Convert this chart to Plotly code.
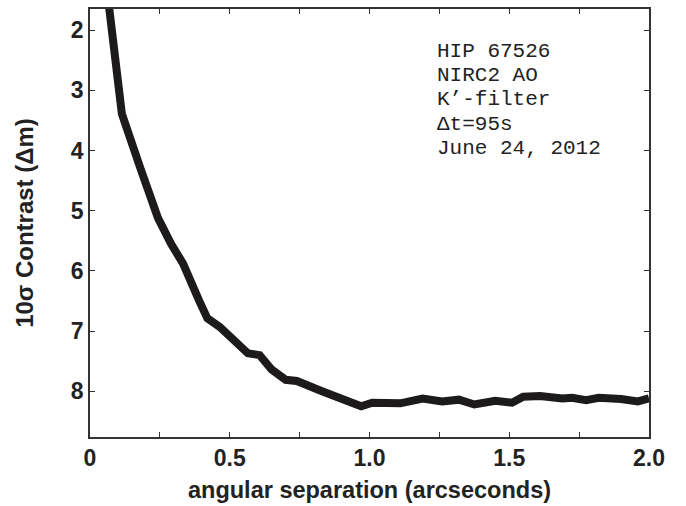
import plotly.graph_objects as go

# angular separation (arcsec) and 10-sigma contrast (delta mag)
sep = [0.06, 0.114, 0.18, 0.243, 0.29, 0.333, 0.39, 0.42, 0.464, 0.51, 0.565, 0.607,
       0.65, 0.70, 0.74, 0.83, 0.92, 0.97, 1.01, 1.11, 1.19, 1.26, 1.32, 1.375,
       1.45, 1.51, 1.55, 1.61, 1.69, 1.725, 1.775, 1.82, 1.90, 1.96, 2.0]
contrast = [1.3, 3.39, 4.29, 5.12, 5.55, 5.88, 6.49, 6.79, 6.93, 7.15, 7.37, 7.40,
            7.64, 7.81, 7.83, 8.0, 8.14, 8.25, 8.19, 8.2, 8.12, 8.17, 8.14, 8.22,
            8.16, 8.19, 8.09, 8.08, 8.12, 8.11, 8.15, 8.11, 8.13, 8.17, 8.12]

x_tickvals = [0, 0.25, 0.5, 0.75, 1.0, 1.25, 1.5, 1.75, 2.0]
x_ticktext = ["0", "", "0.5", "", "1.0", "", "1.5", "", "2.0"]
y_tickvals = [2, 3, 4, 5, 6, 7, 8]
y_ticktext = ["2", "3", "4", "5", "6", "7", "8"]

info_lines = ["HIP 67526", "NIRC2 AO", "K\u2019-filter", "\u0394t=95s", "June 24, 2012"]

SANS = "Liberation Sans, Arial, Helvetica, sans-serif"

fig = go.Figure()
fig.add_trace(go.Scatter(x=sep, y=contrast, mode="lines",
                         line=dict(color="#1c1a1a", width=8), showlegend=False))

L, R, T, B = 90, 37, 7, 68
W, H = 686, 506
ph = H - T - B
for i, t in enumerate(info_lines):
    py = 50 + i * 24.3
    fig.add_annotation(x=(435 - L) / (W - L - R), y=(H - B - py) / ph,
                       xref="paper", yref="paper", text=t, showarrow=False,
                       xanchor="left", yanchor="middle",
                       font=dict(family="Courier New, Nimbus Mono PS, Liberation Mono, monospace",
                                 size=21, color="#222"))

axis_common = dict(showline=True, linecolor="#333", linewidth=1.5, mirror="ticks",
                   ticks="inside", ticklen=5, tickcolor="#333", tickwidth=1,
                   showgrid=False, zeroline=False,
                   tickfont=dict(family=SANS, size=23, color="#222"))

fig.update_xaxes(range=[0, 2], tickmode="array", tickvals=x_tickvals,
                 ticktext=["<b>%s</b>" % t if t else "" for t in x_ticktext],
                 title=dict(text="<b>angular separation (arcseconds)</b>",
                            font=dict(family=SANS, size=23.5, color="#222"), standoff=11),
                 **axis_common)
fig.update_yaxes(range=[8.76, 1.65], tickmode="array", tickvals=y_tickvals,
                 ticktext=["<b>%s</b>" % t for t in y_ticktext],
                 title=dict(text="<b>10\u03c3 Contrast (\u0394m)</b>",
                            font=dict(family=SANS, size=24, color="#222"), standoff=30),
                 **axis_common)

fig.update_layout(width=W, height=H, margin=dict(l=L, r=R, t=T, b=B),
                  plot_bgcolor="white", paper_bgcolor="white")
fig.write_html("out.html")
